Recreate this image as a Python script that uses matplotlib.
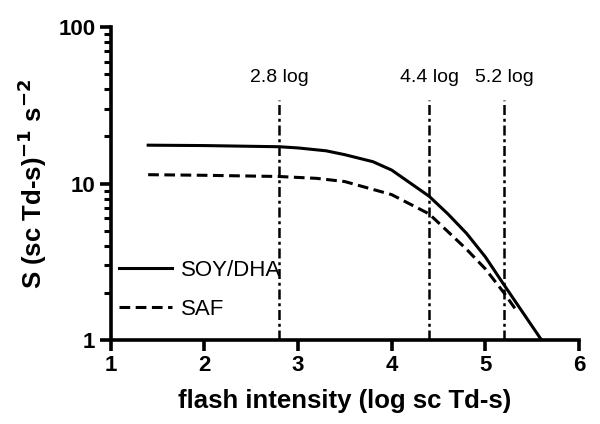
import numpy as np
import matplotlib
matplotlib.use("Agg")
import matplotlib.pyplot as plt
from matplotlib.ticker import LogLocator, FixedLocator, NullFormatter

plt.rcParams['font.family'] = ['Liberation Sans', 'DejaVu Sans']

# curves
x_soy = [1.4, 2.0, 2.8, 3.0, 3.3, 3.5, 3.8, 4.0, 4.4, 4.6, 4.8, 5.0, 5.2, 5.4, 5.6]
soy = [17.6, 17.5, 17.2, 16.9, 16.2, 15.3, 13.8, 12.2, 8.3, 6.4, 4.8, 3.4, 2.25, 1.5, 1.0]
x_saf = [1.4, 2.0, 2.8, 3.2, 3.5, 4.0, 4.4, 4.8, 5.0, 5.2, 5.33]
saf = [11.4, 11.3, 11.1, 10.8, 10.3, 8.5, 6.4, 3.8, 2.85, 2.0, 1.55]

marks = [2.8, 4.4, 5.2]
mark_labels = ['2.8 log', '4.4 log', '5.2 log']
mark_top = 34

fig = plt.figure(figsize=(6, 4.24), dpi=100)
ax = fig.add_axes([0.1845, 0.198, 0.7805, 0.738])

ax.plot(x_soy, soy, color='black', lw=2.2, label='SOY/DHA')
ax.plot(x_saf, saf, color='black', lw=2.2, ls=(0, (3.5, 1.8)), label='SAF')

for xm, lab in zip(marks, mark_labels):
    ax.plot([xm, xm], [1, mark_top], color='black', lw=1.8,
            ls=(0, (4, 1.5, 1.2, 1.5)))
    ax.text(xm, 48, lab, ha='center', va='center', fontsize=14)

ax.set_yscale('log')
ax.set_xlim(1, 6)
ax.set_ylim(1, 100)
ax.set_xticks([1, 2, 3, 4, 5, 6])
ax.yaxis.set_major_locator(FixedLocator([1, 10, 100]))
ax.set_yticklabels(['1', '10', '100'])
ax.yaxis.set_minor_locator(LogLocator(base=10, subs=np.arange(2, 10)))
ax.yaxis.set_minor_formatter(NullFormatter())

for s in ['top', 'right']:
    ax.spines[s].set_visible(False)
for s in ['left', 'bottom']:
    ax.spines[s].set_linewidth(2.6)

ax.tick_params(axis='both', which='major', direction='out', length=8,
               width=2.6, labelsize=16, pad=3)
ax.tick_params(axis='y', which='minor', direction='out', length=5, width=2.2)
for t in ax.get_xticklabels() + ax.get_yticklabels():
    t.set_fontweight('bold')

ax.set_xlabel('flash intensity (log sc Td-s)', fontsize=18.5, fontweight='bold',
              labelpad=9)
ax.set_ylabel('S (sc Td-s)$^{\\mathbf{-1}}$ s$^{\\mathbf{-2}}$', fontsize=18.5,
              fontweight='bold', labelpad=7)

ax.legend(loc='lower left', bbox_to_anchor=(-0.025, 0.0), frameon=False,
          fontsize=16, handlelength=2.4, handletextpad=0.4, labelspacing=0.82)

fig.savefig('out.png', dpi=100)
